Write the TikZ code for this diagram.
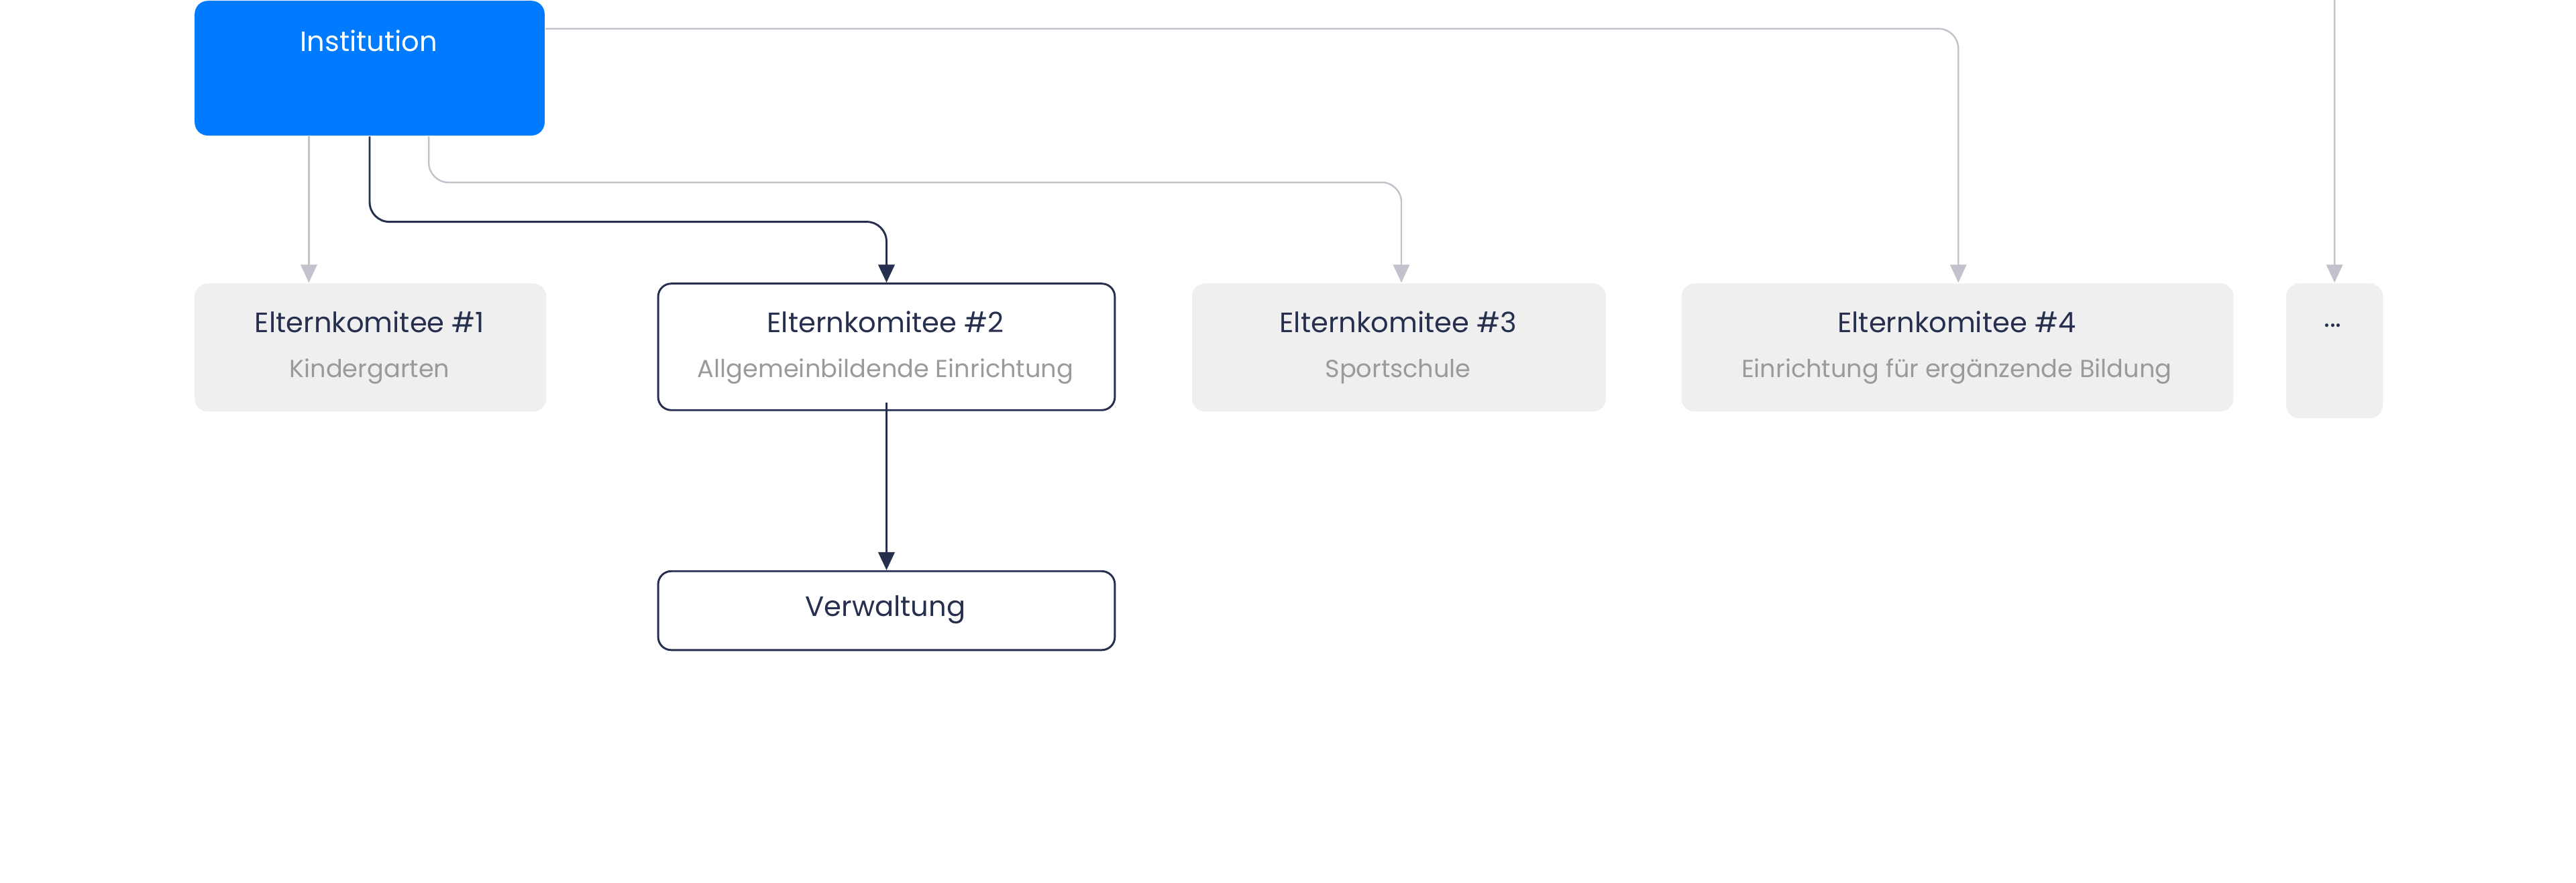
\documentclass[tikz,border=0pt]{standalone}
\usepackage{fontspec}
\setmainfont{Poppins}
\usetikzlibrary{arrows.meta}
\definecolor{instblue}{HTML}{007AFF}
\definecolor{navy}{HTML}{262F4E}
\definecolor{lightline}{HTML}{C2C2CC}
\definecolor{boxgray}{HTML}{EFEFEF}
\definecolor{subgray}{HTML}{9A9A9A}
\tikzset{every picture/.style={line width=1pt}}
\tikzset{
  komitee/.style={draw=none,fill=boxgray,rounded corners=8pt,anchor=north west,inner sep=0pt,minimum height=78pt},
  aktiv/.style={draw=navy,fill=white,rounded corners=8pt,anchor=north west,inner sep=0pt,line width=1.2pt},
  titel/.style={text=navy,font=\fontsize{17}{20}\selectfont},
  untertitel/.style={text=subgray,font=\fontsize{15}{18}\selectfont},
  grauepfeil/.style={draw=lightline,rounded corners=12pt,-{Triangle[length=11pt,width=10pt]}},
  dunkelpfeil/.style={draw=navy,line width=1.2pt,rounded corners=12pt,-{Triangle[length=11pt,width=10pt]}}
}

\begin{document}
\begin{tikzpicture}[x=1pt,y=1pt,yscale=-1,xscale=1]
\useasboundingbox (0,0) rectangle (1568,537);
% Institution
\node [fill=instblue,rounded corners=8pt,anchor=north west,inner sep=0pt,minimum width=213pt,minimum height=82pt] (inst) at (118,0) {};
\node [text=white,font=\fontsize{17}{20}\selectfont] (instlabel) at (224.5,25) {Institution};
% Komitees
\node [komitee,minimum width=214pt] (k1) at (118,172) {};
\node [titel] (k1t) at (225,196) {Elternkomitee \#1};
\node [untertitel] (k1u) at (225,226) {Kindergarten};
\node [aktiv,minimum width=278pt,minimum height=77pt] (k2) at (400,172) {};
\node [titel] (k2t) at (539,196) {Elternkomitee \#2};
\node [untertitel] (k2u) at (539,226) {Allgemeinbildende Einrichtung};
\node [komitee,minimum width=252pt] (k3) at (725,172) {};
\node [titel] (k3t) at (851,196) {Elternkomitee \#3};
\node [untertitel] (k3u) at (851,226) {Sportschule};
\node [komitee,minimum width=336pt] (k4) at (1023,172) {};
\node [titel] (k4t) at (1191,196) {Elternkomitee \#4};
\node [untertitel] (k4u) at (1191,226) {Einrichtung für ergänzende Bildung};
\node [komitee,minimum width=59pt,minimum height=82pt] (k5) at (1391,172) {};
\node [titel] (k5t) at (1420,198) {...};
% Verwaltung
\node [aktiv,minimum width=278pt,minimum height=48pt] (verw) at (400,347) {};
\node [titel] (verwt) at (539,371) {Verwaltung};
% Verbindungen
\draw [grauepfeil] ([xshift=70pt]inst.south west) -- ([xshift=70pt]k1.north west);
\draw [dunkelpfeil] (inst.south) -- ++(0,52) -| (k2.north);
\draw [grauepfeil] ([xshift=143pt]inst.south west) -- ++(0,28) -| ([xshift=128pt]k3.north west);
\draw [grauepfeil] ([yshift=-24pt]inst.east) -| ([xshift=169pt]k4.north west);
\draw [grauepfeil] ([yshift=-55pt]inst.east) -| (k5.north);
\draw [dunkelpfeil] ([yshift=-5pt]k2.south) -- (verw.north);
\end{tikzpicture}
\end{document}
